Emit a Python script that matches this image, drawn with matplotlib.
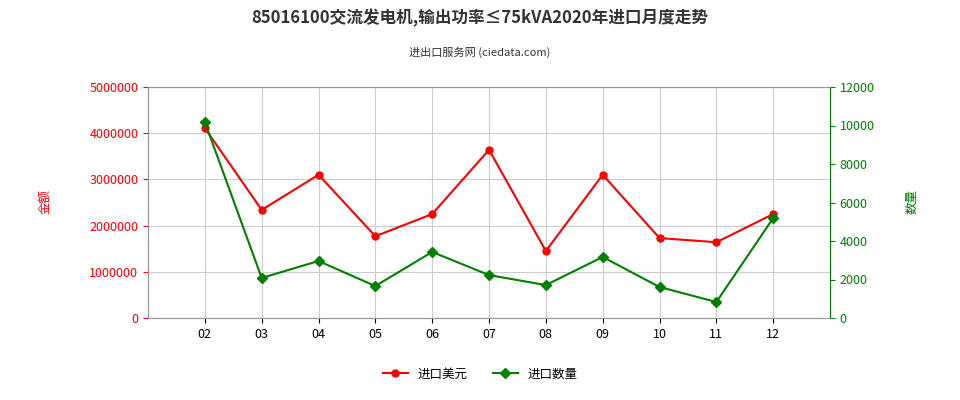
import matplotlib
matplotlib.use("Agg")
import matplotlib.pyplot as plt
from matplotlib import font_manager

names = {f.name for f in font_manager.fontManager.ttflist}
cjk = [n for n in ["Noto Sans CJK SC", "Noto Sans CJK JP", "Noto Sans CJK TC", "Noto Sans CJK KR", "Noto Sans SC"] if n in names]
plt.rcParams['font.family'] = 'sans-serif'
plt.rcParams['font.sans-serif'] = cjk + ['DejaVu Sans']

months = ["02","03","04","05","06","07","08","09","10","11","12"]
usd = [4110000,2340000,3100000,1770000,2250000,3640000,1450000,3100000,1730000,1640000,2250000]
qty = [10180,2080,2960,1660,3430,2230,1710,3170,1610,830,5190]

fig = plt.figure(figsize=(9.6,4.0), dpi=100)
ax = fig.add_axes([148/960, 1-318/400, (830-148)/960, (318-87)/400])
ax2 = ax.twinx()
x = list(range(len(months)))
ax.plot(x, usd, color='#ff0000', marker='o', ms=5, lw=1.5, label='进口美元')
ax2.plot(x, qty, color='#008000', marker='D', ms=5, lw=1.5, label='进口数量')
ax.set_xlim(-1, 11)
ax.set_ylim(0, 5000000)
ax2.set_ylim(0, 12000)
ax.set_yticks(range(0, 5000001, 1000000))
ax.set_yticklabels([str(v) for v in range(0, 5000001, 1000000)])
ax2.set_yticks(range(0, 12001, 2000))
ax.set_xticks(x)
ax.set_xticklabels(months)
ax.grid(True, color='#cccccc', lw=0.8)
ax.set_axisbelow(True)
for a in (ax, ax2):
    a.tick_params(labelsize=9)
    for s in a.spines.values():
        s.set_color('#999999')
ax.tick_params(axis='y', colors='#ff0000')
ax2.tick_params(axis='y', colors='#008000')
ax.spines['left'].set_color('#ff0000')
ax2.spines['right'].set_color('#008000')
fig.text(45/960, 1-202/400, '金额', color='#ff0000', fontsize=9, rotation=90, ha='center', va='center')
fig.text(912/960, 1-202/400, '数量', color='#008000', fontsize=9, rotation=90, ha='center', va='center')
fig.text(0.5, 0.955, '85016100交流发电机,输出功率≤75kVA2020年进口月度走势', ha='center', va='center', fontsize=12, fontweight='bold', color='#333333')
fig.text(0.5, 0.87, '进出口服务网 (ciedata.com)', ha='center', va='center', fontsize=8, color='#333333')
h1, l1 = ax.get_legend_handles_labels()
h2, l2 = ax2.get_legend_handles_labels()
fig.legend(h1+h2, l1+l2, loc='center', bbox_to_anchor=(0.5, 0.065), ncol=2, frameon=False, fontsize=9)
fig.savefig('out.png', dpi=100)
